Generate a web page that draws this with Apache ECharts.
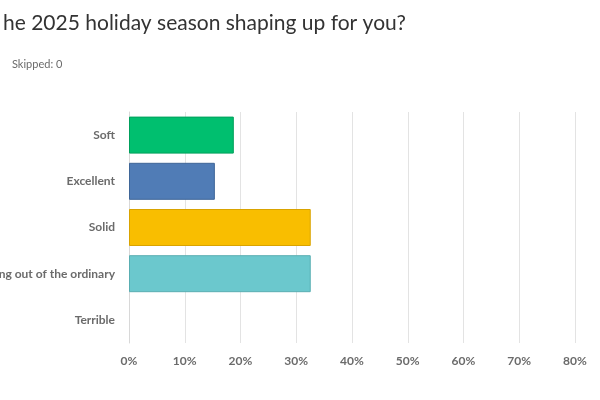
<!DOCTYPE html>
<html><head><meta charset="utf-8">
<script src="https://cdn.jsdelivr.net/npm/echarts@6/dist/echarts.min.js"></script>
<style>html,body{margin:0;padding:0;background:#fff}#c{width:600px;height:400px}</style>
</head><body><div id="c"></div>
<script>
const categories = ["Soft","Excellent","Solid","Nothing out of the ordinary","Terrible"];
const values = [18.8, 15.4, 32.6, 32.6, 0];
const colors = ["#00bf6f","#507cb6","#f9be00","#6bc8cd","#cccccc"];
const borders = ["#00a05c","#3f6698","#d9a300","#59aeb2","#aaaaaa"];
const chart = echarts.init(document.getElementById('c'));
chart.setOption({
  animation:false,
  title:[{text:"he 2025 holiday season shaping up for you?",left:-2,top:8,
    textStyle:{fontFamily:"Lato",fontSize:21,fontWeight:'normal',color:'#333'}},
    {text:"Skipped: 0",left:7,top:54,textStyle:{fontFamily:"Lato",fontSize:11,fontWeight:'normal',color:'#6b6b6b'}}],
  grid:{left:129,right:25,top:112,bottom:57,containLabel:false,outerBoundsMode:'none'},
  xAxis:{type:'value',min:0,max:80,interval:10,
    axisLabel:{formatter:'{value}%',color:'#6b6b6b',fontFamily:'Lato',fontSize:12,fontWeight:'bold',margin:12},
    splitLine:{lineStyle:{color:'#e3e3e3'}},axisLine:{show:false},axisTick:{show:false}},
  yAxis:{type:'category',data:categories,inverse:true,
    axisLabel:{color:'#6b6b6b',fontFamily:'Lato',fontSize:12,fontWeight:'bold',margin:14},
    axisLine:{show:true,lineStyle:{color:'#d8d8d8'}},axisTick:{show:false}},
  series:[{type:'bar',barWidth:37,
    data:values.map((v,i)=>({value:v,itemStyle:{color:colors[i],borderColor:borders[i],borderWidth:v>0?1:0}}))}]
});
</script></body></html>
